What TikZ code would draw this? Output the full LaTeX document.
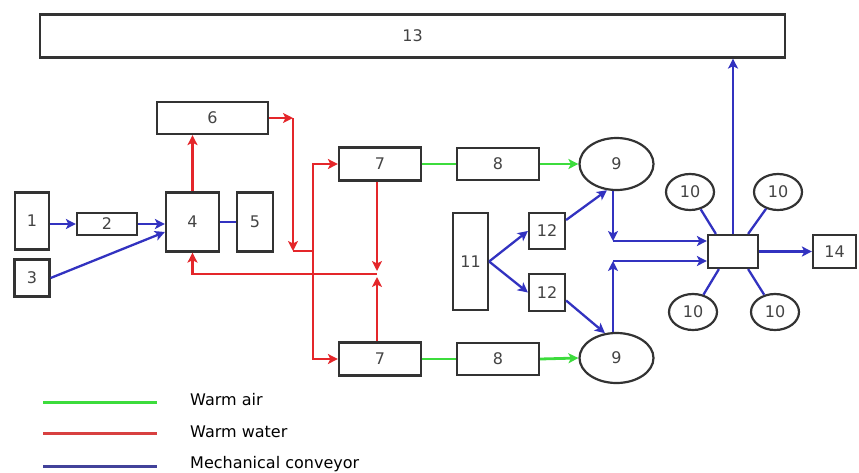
\documentclass[tikz,border=0pt]{standalone}
\usepackage{fontspec}
\setmainfont{DejaVu Sans}
\usetikzlibrary{arrows.meta,shapes.geometric}
\definecolor{boxgray}{HTML}{333333}
\definecolor{numgray}{HTML}{444444}
\definecolor{airgreen}{HTML}{3CDC3C}
\definecolor{waterred}{HTML}{E4262A}
\definecolor{convblue}{HTML}{3232C0}
\definecolor{legblue}{HTML}{42429A}
\definecolor{legred}{HTML}{D84040}
\begin{document}
\begin{tikzpicture}[x=1pt,y=-1pt,
        unit/.style={draw=boxgray, line width=2.2pt, inner sep=0pt, fill=white,
            font=\fontsize{16}{16}\selectfont, text=numgray},
        tank/.style={unit, ellipse},
        air/.style={draw=airgreen, line width=2.8pt},
        water/.style={draw=waterred, line width=2.8pt},
        conv/.style={draw=convblue, line width=2.3pt},
        legtext/.style={anchor=west, inner sep=0pt, font=\fontsize{16}{16}\selectfont},
        >={Stealth[length=10pt,width=10pt,inset=2.5pt]}]
                                \useasboundingbox (0,0) rectangle (859,472);

                                \node[unit, minimum width=745pt, minimum height=43pt] (n13) at (412.5,36) {13};
                                \node[unit, minimum width=111pt, minimum height=32pt] (n6) at (212.5,118) {6};
                                \node[unit, minimum width=34pt, minimum height=57pt] (n1) at (32,221) {1};
                                \node[unit, minimum width=60pt, minimum height=22pt] (n2) at (107,224) {2};
                                \node[unit, minimum width=35pt, minimum height=37pt] (n3) at (32,278) {3};
                                \node[unit, minimum width=53pt, minimum height=59pt] (n4) at (192.5,222) {4};
                                \node[unit, minimum width=36pt, minimum height=59pt] (n5) at (255,222) {5};
                                \node[unit, minimum width=82pt, minimum height=33pt] (n7a) at (380,164) {7};
                                \node[unit, minimum width=82pt, minimum height=33pt] (n7b) at (380,359) {7};
                                \node[unit, minimum width=82pt, minimum height=32pt] (n8a) at (498,164) {8};
                                \node[unit, minimum width=82pt, minimum height=32pt] (n8b) at (498,359) {8};
                                \node[tank, minimum width=74pt, minimum height=52pt] (n9a) at (616.5,164) {9};
                                \node[tank, minimum width=74pt, minimum height=50pt] (n9b) at (616.5,358) {9};
                                \node[unit, minimum width=35pt, minimum height=97pt] (n11) at (470.5,261.5) {11};
                                \node[unit, minimum width=36pt, minimum height=36pt] (n12a) at (547,231) {12};
                                \node[unit, minimum width=36pt, minimum height=37pt] (n12b) at (547,292.5) {12};
                                \node[unit, minimum width=50pt, minimum height=33pt] (hub) at (733,251.5) {};
                                \node[unit, minimum width=43pt, minimum height=33pt] (n14) at (834.5,251.5) {14};
                                \node[tank, minimum width=48pt, minimum height=36pt] (n10a) at (690,192) {10};
                                \node[tank, minimum width=48pt, minimum height=36pt] (n10b) at (778,192) {10};
                                \node[tank, minimum width=48pt, minimum height=36pt] (n10c) at (693,312) {10};
                                \node[tank, minimum width=48pt, minimum height=36pt] (n10d) at (775,312) {10};

                                \draw[conv,->] (n1.east |- n2) -- (n2.west);
                                \draw[conv,->] (n2.east) -- (n2.east -| n4.west);
                                \draw[conv,->] (n3.east) -- ([yshift=-10pt]n4.west);
                                \draw[conv] (n4.east) -- (n5.west);
                                \draw[conv,->] (n11.east) -- (n12a.west);
                                \draw[conv,->] (n11.east) -- (n12b.west);
                                \draw[conv,->] ([yshift=11pt]n12a.east) -- (n9a.250);
                                \draw[conv,->] ([yshift=-8pt]n12b.east) -- (n9b.115);

                                \coordinate (j1) at (613,241);
                                \coordinate (j2) at (613,261);
                                \draw[conv,->] (n9a.south -| j1) -- (j1);
                                \draw[conv,->] (j1) -- (j1 -| hub.west);
                                \draw[conv,->] (n9b.north -| j2) -- (j2);
                                \draw[conv,->] (j2) -- (j2 -| hub.west);
                                \draw[conv] (n10a) -- ([xshift=9pt]hub.north west);
                                \draw[conv] (n10b) -- ([xshift=-11pt]hub.north east);
                                \draw[conv] (n10c) -- ([xshift=12pt]hub.south west);
                                \draw[conv] (n10d) -- ([xshift=-11pt]hub.south east);
                                \draw[conv,->] (hub.north) -- (hub.north |- n13.south);
                                \draw[conv,->] (hub.east) -- (n14.west);

                                \draw[air] (n7a.east) -- (n8a.west);
                                \draw[air] (n7b.east) -- (n8b.west);
                                \draw[air,->] (n8a.east) -- (n9a.west);
                                \draw[air,->] (n8b.east) -- (n9b.west);

                                \coordinate (w1) at (293,118);
                                \coordinate (w2) at (293,251);
                                \coordinate (w3) at (313,251);
                                \coordinate (w4) at (377,274);
                                \draw[water,->] (n4.north) -- (n4.north |- n6.south);
                                \draw[water,->] (n6.east |- w1) -- (w1);
                                \draw[water,->] (w1) -- (w2);
                                \draw[water] (w2) -- (w3);
                                \draw[water,->] (w3) |- (n7a.west);
                                \draw[water,->] (w3) |- (n7b.west);
                                \draw[water,->] (n7a.south -| w4) -- ([yshift=3pt]w4);
                                \draw[water,->] (n7b.north -| w4) -- ([yshift=-3pt]w4);
                                \draw[water,->] (w4) -| (n4.south);

                                \coordinate (la) at (43,402);
                                \coordinate (lb) at (43,433);
                                \coordinate (lc) at (43,466);
                                \draw[airgreen, line width=3pt] (la) -- ++(114,0);
                                \draw[legred, line width=3pt] (lb) -- ++(114,0);
                                \draw[legblue, line width=3pt] (lc) -- ++(114,0);
                                \node[legtext] (tair) at (190,400) {Warm air};
                                \node[legtext] (twater) at (190,432) {Warm water};
                                \node[legtext] (tconv) at (190,464) {Mechanical conveyor};
\end{tikzpicture}
\end{document}
